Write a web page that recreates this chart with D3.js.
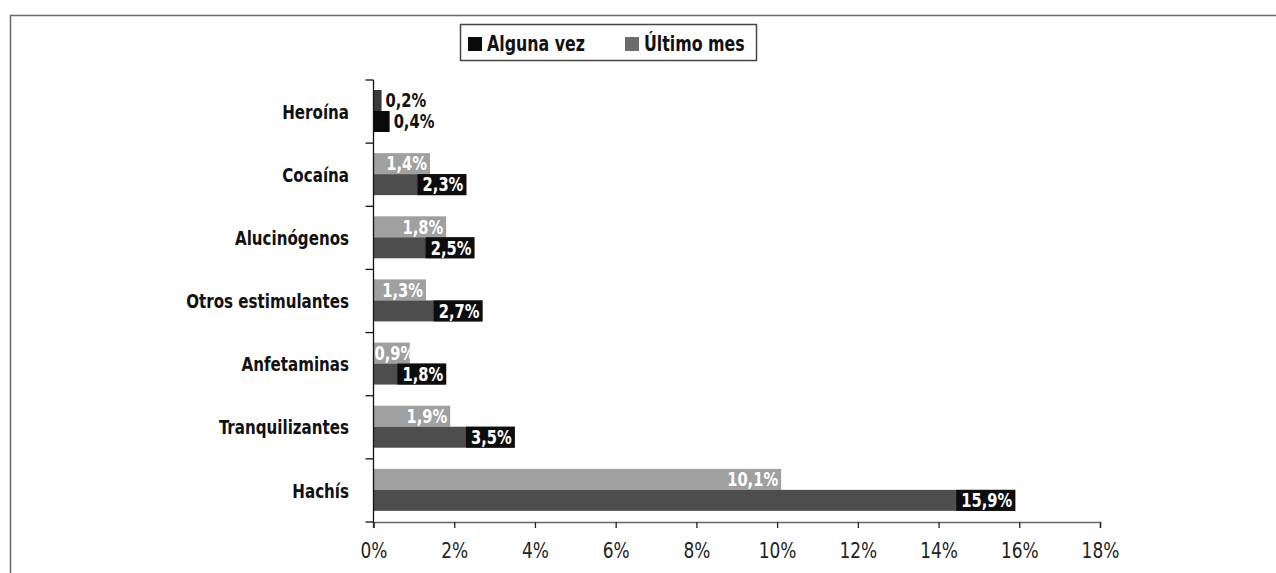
<!doctype html>
<html>
<head>
  <meta charset="utf-8">
  <style>
    body { margin:0; background:#fff; }
    text { font-family:"DejaVu Sans Condensed", "Liberation Sans Narrow", Arial, sans-serif; }
  </style>
  <script src="https://d3js.org/d3.v7.min.js"></script>
</head>
<body>
  <script>
    var categories = ["Heroína", "Cocaína", "Alucinógenos", "Otros estimulantes",
                      "Anfetaminas", "Tranquilizantes", "Hachís"];
    var series = ["Alguna vez", "Último mes"];
    var algunaVez = [0.4, 2.3, 2.5, 2.7, 1.8, 3.5, 15.9];
    var ultimoMes = [0.2, 1.4, 1.8, 1.3, 0.9, 1.9, 10.1];
    var xTicks = [0, 2, 4, 6, 8, 10, 12, 14, 16, 18];

    var W = 1276, H = 573;
    var svg = d3.select("body").append("svg")
      .attr("width", W)
      .attr("height", H);

    // squeeze text horizontally, the original uses a condensed face
    function place(sel, px, py, sx) {
      sel.attr("x", 0).attr("y", 0)
        .attr("transform", "translate(" + px + "," + py + ") scale(" + sx + ",1)");
    }

    // scanned frame (top + left only)
    svg.append("path")
      .attr("d", "M10.5,573V15.5H1276")
      .attr("fill", "none")
      .attr("stroke", "#6a6a6a")
      .attr("stroke-width", 1.5);

    var x = d3.scaleLinear().domain([0, 18]).range([373.5, 1100]);
    var y = d3.scaleBand().domain(categories).range([80, 522]);
    // upper bar = último mes, lower bar = alguna vez
    var yInner = d3.scaleBand().domain(["Último mes", "Alguna vez"]).range([10, 52]);

    var barFill = { "Alguna vez": "#4d4d4d", "Último mes": "#a0a0a0" };
    var keyFill = { "Alguna vez": "#0a0a0a", "Último mes": "#6b6b6b" };

    var rows = [];
    categories.forEach(function(c, i) {
      rows.push({ cat: c, s: "Último mes", v: ultimoMes[i] });
      rows.push({ cat: c, s: "Alguna vez", v: algunaVez[i] });
    });

    var fmt = function(v) { return d3.format(".1f")(v).replace(".", ",") + "%"; };

    var bars = svg.append("g").selectAll("g.bar")
      .data(rows).enter().append("g").attr("class", "bar");

    bars.append("rect")
      .attr("x", x(0))
      .attr("y", function(d) { return y(d.cat) + yInner(d.s); })
      .attr("width", function(d) { return x(d.v) - x(0); })
      .attr("height", yInner.bandwidth())
      .attr("fill", function(d) { return d.v < 0.5 ? (d.s == "Alguna vez" ? "#0a0a0a" : "#3a3a3a") : barFill[d.s]; });

    // value labels
    var sx = 0.86;
    bars.each(function(d) {
      var g = d3.select(this);
      var yc = y(d.cat) + yInner(d.s) + yInner.bandwidth() / 2;
      var outside = d.v < 0.5;
      var t = g.append("text")
        .attr("dy", "0.36em")
        .attr("font-size", 19)
        .attr("font-weight", "bold")
        .text(fmt(d.v));
      var w = t.node().getComputedTextLength() * sx;
      if (outside) {
        place(t, x(d.v) + 4, yc, sx);
        t.attr("fill", "#111");
      } else {
        var right = Math.max(x(d.v) - 3, x(0) + 1 + w);
        place(t, right, yc, sx);
        t.attr("text-anchor", "end").attr("fill", "#fff");
        if (d.s == "Alguna vez") {
          g.insert("rect", "text")
            .attr("x", x(d.v) - w - 8)
            .attr("y", y(d.cat) + yInner(d.s))
            .attr("width", w + 8)
            .attr("height", yInner.bandwidth())
            .attr("fill", "#0d0d0d");
        }
      }
    });

    // category axis
    var yAxis = svg.append("g");
    yAxis.append("line")
      .attr("x1", x(0)).attr("x2", x(0))
      .attr("y1", y.range()[0]).attr("y2", y.range()[1] + 6)
      .attr("stroke", "#111").attr("stroke-width", 1.3);
    var bounds = categories.map(function(c) { return y(c); }).concat([y.range()[1]]);
    yAxis.selectAll("line.tk").data(bounds).enter().append("line")
      .attr("class", "tk")
      .attr("x1", x(0) - 8).attr("x2", x(0))
      .attr("y1", function(d) { return d; }).attr("y2", function(d) { return d; })
      .attr("stroke", "#111").attr("stroke-width", 1.3);
    yAxis.selectAll("text").data(categories).enter().append("text")
      .attr("dy", "0.36em")
      .attr("text-anchor", "end")
      .attr("font-size", 20)
      .attr("font-weight", "bold")
      .attr("fill", "#111")
      .text(function(d) { return d; })
      .each(function(d) { place(d3.select(this), 349, y(d) + y.bandwidth() / 2, 0.84); });

    // value axis
    var xAxis = svg.append("g")
      .attr("transform", "translate(0," + y.range()[1] + ")")
      .call(d3.axisBottom(x).tickValues(xTicks).tickSize(6).tickSizeOuter(6).tickPadding(15)
        .tickFormat(function(d) { return d + "%"; }));
    xAxis.select(".domain").attr("stroke", "#666").attr("stroke-width", 1.5);
    xAxis.selectAll(".tick line").attr("stroke", "#222").attr("stroke-width", 1.3);
    xAxis.selectAll(".tick text")
      .attr("font-size", 21)
      .attr("font-family", "'DejaVu Sans Condensed', 'Liberation Sans Narrow', Arial, sans-serif")
      .attr("fill", "#222")
      .attr("transform", "scale(0.9,1)");

    // legend
    var lg = svg.append("g");
    lg.append("rect")
      .attr("x", 460.5).attr("y", 24.5).attr("width", 296).attr("height", 36)
      .attr("fill", "#fff").attr("stroke", "#444").attr("stroke-width", 1.5);
    var keyX = [468, 625];
    series.forEach(function(s, i) {
      lg.append("rect")
        .attr("x", keyX[i]).attr("y", 37).attr("width", 14).attr("height", 14)
        .attr("fill", keyFill[s]);
      var t = lg.append("text")
        .attr("font-size", 22)
        .attr("font-weight", "bold")
        .attr("fill", "#111")
        .text(s);
      place(t, keyX[i] + 19, 50.5, 0.8);
    });
  </script>
</body>
</html>
